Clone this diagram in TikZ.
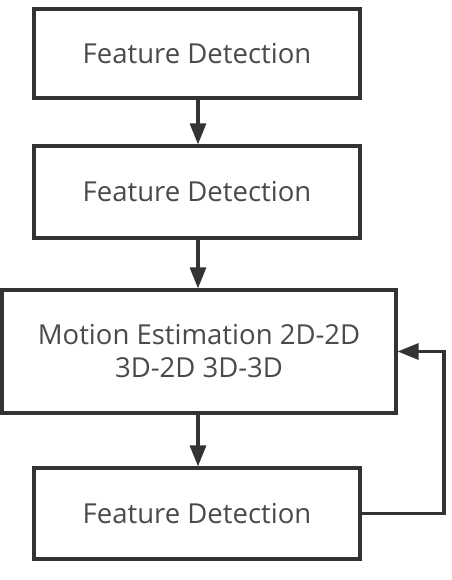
\documentclass[tikz,border=0pt]{standalone}
\usepackage{fontspec}
\setmainfont{Open Sans}
\usetikzlibrary{arrows.meta,positioning}
\definecolor{linec}{HTML}{333333}
\definecolor{textc}{HTML}{4A4A4A}
\tikzset{
  box/.style={draw=linec, line width=3.2pt, fill=white, inner sep=0pt, text=textc,
    font=\fontsize{27.5}{33}\selectfont, align=center},
  conn/.style={draw=linec, line width=3.2pt, -{Triangle[width=16pt,length=21pt]}}
}
\begin{document}
\begin{tikzpicture}[x=1pt,y=-1pt]
\useasboundingbox (0,0) rectangle (451,580);
\node[box, minimum width=326pt, minimum height=89pt] (b1) at (197,53.5) {Feature Detection};
\node[box, minimum width=326pt, minimum height=92pt] (b2) at (197,192) {Feature Detection};
\node[box, minimum width=394pt, minimum height=123pt] (b3) at (199,351.5) {Motion Estimation 2D-2D\\3D-2D 3D-3D};
\node[box, minimum width=326pt, minimum height=91pt] (b4) at (197,513.5) {Feature Detection};
\coordinate (c1) at (444,513.5);
\coordinate (c2) at (444,351.5);
\draw[conn] (b1.south -| 198,0) -- (b2.north -| 198,0);
\draw[conn] (b2.south -| 198,0) -- (b3.north -| 198,0);
\draw[conn] (b3.south -| 198,0) -- (b4.north -| 198,0);
\draw[conn] (b4.east) -- (c1) -- (c2) -- (b3.east);
\end{tikzpicture}
\end{document}
